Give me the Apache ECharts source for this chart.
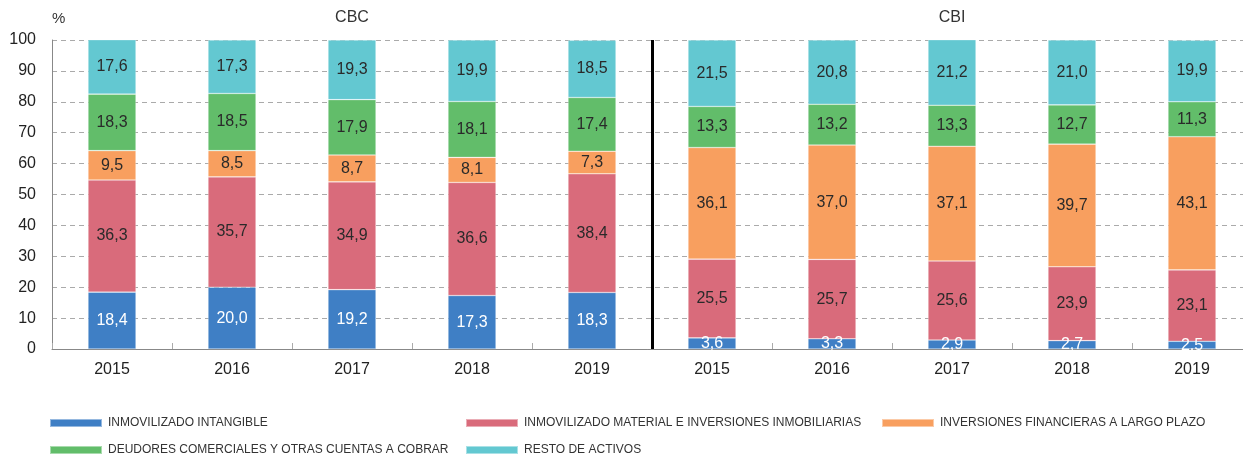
<!DOCTYPE html>
<html>
<head>
<meta charset="utf-8">
<script src="https://cdn.jsdelivr.net/npm/echarts@6/dist/echarts.min.js"></script>
<style>
  html, body { margin: 0; padding: 0; background: #fff; }
  #main { width: 1243px; height: 455px; }
</style>
</head>
<body>
<div id="main"></div>
<script>
// categorias: 5 años CBC y 5 años CBI
var years = ["2015", "2016", "2017", "2018", "2019", "2015", "2016", "2017", "2018", "2019"];
var groups = ["CBC", "CBI"];

var intangible = [18.4, 20.0, 19.2, 17.3, 18.3, 3.6, 3.3, 2.9, 2.7, 2.5];
var material   = [36.3, 35.7, 34.9, 36.6, 38.4, 25.5, 25.7, 25.6, 23.9, 23.1];
var financiera = [9.5, 8.5, 8.7, 8.1, 7.3, 36.1, 37.0, 37.1, 39.7, 43.1];
var deudores   = [18.3, 18.5, 17.9, 18.1, 17.4, 13.3, 13.2, 13.3, 12.7, 11.3];
var resto      = [17.6, 17.3, 19.3, 19.9, 18.5, 21.5, 20.8, 21.2, 21.0, 19.9];

var names = [
	"INMOVILIZADO INTANGIBLE",
	"INMOVILIZADO MATERIAL E INVERSIONES INMOBILIARIAS",
	"INVERSIONES FINANCIERAS A LARGO PLAZO",
	"DEUDORES COMERCIALES Y OTRAS CUENTAS A COBRAR",
	"RESTO DE ACTIVOS"
];
var colors = ["#3F7FC5", "#D96B7B", "#F89F5F", "#62BD6A", "#63C8D1"];
var series_data = [intangible, material, financiera, deudores, resto];

// posición de cada entrada de la leyenda (columna, fila)
var legend_left = [49, 465, 881, 49, 465];
var legend_top  = [417, 417, 417, 444, 444];

var font = "'Liberation Sans', Arial, sans-serif";

var chart = echarts.init(document.getElementById('main'));

var series = [];
for (var i = 0; i < series_data.length; i++) {
	series.push({
		name: names[i],
		type: 'bar',
		stack: 'total',
		barWidth: 48,
		data: series_data[i],
		itemStyle: {
			color: colors[i],
			borderColor: 'rgba(255,255,255,0.45)',
			borderWidth: 0.6
		},
		label: {
			show: true,
			position: 'inside',
			fontFamily: font,
			fontSize: 16,
			color: i == 0 ? '#ffffff' : '#2a2a2a',
			formatter: function(p) {
				return p.value.toFixed(1).replace('.', ',');
			}
		}
	});
}

// línea separadora entre CBC y CBI (eje de valores oculto 0..10)
series.push({
	type: 'scatter',
	xAxisIndex: 1,
	data: [],
	silent: true,
	markLine: {
		symbol: 'none',
		silent: true,
		label: { show: false },
		lineStyle: { color: '#000', type: 'solid', width: 3 },
		data: [{ xAxis: 5 }]
	}
});

// una leyenda por entrada
var legends = [];
for (var j = 0; j < names.length; j++) {
	legends.push({
		data: [names[j]],
		left: legend_left[j],
		top: legend_top[j],
		padding: 0,
		itemWidth: 52,
		itemHeight: 8,
		itemGap: 6,
		icon: 'rect',
		selectedMode: false,
		textStyle: { fontFamily: font, fontSize: 12, color: '#333', padding: [0, 0, 0, 1] }
	});
}

var option = {
	animation: false,
	color: colors,
	grid: { left: 52, width: 1200, top: 40, height: 309, outerBoundsMode: 'none', containLabel: false },
	legend: legends,
	xAxis: [
		{
			type: 'category',
			data: years,
			axisLine: { lineStyle: { color: '#888', width: 1 } },
			axisTick: { show: true, inside: true, length: 6, interval: 0, lineStyle: { color: '#aaa' } },
			axisLabel: { fontFamily: font, fontSize: 16, color: '#222', margin: 13, interval: 0 }
		},
		{
			type: 'value',
			min: 0, max: 10,
			show: false
		},
		{
			type: 'category',
			position: 'top',
			data: groups,
			axisLine: { show: false },
			axisTick: { show: false },
			axisLabel: { fontFamily: font, fontSize: 16, color: '#333', margin: 14 }
		}
	],
	yAxis: {
		type: 'value',
		min: 0, max: 100, interval: 10,
		name: '%',
		nameLocation: 'end',
		nameGap: 14,
		nameTextStyle: { fontFamily: font, fontSize: 15, color: '#333', align: 'left', padding: [0, 0, 0, 0] },
		axisLine: { show: true, lineStyle: { color: '#888' } },
		axisTick: { show: false },
		axisLabel: { fontFamily: font, fontSize: 16, color: '#222', margin: 16 },
		splitLine: { lineStyle: { color: '#aaa', type: [5, 4], width: 1 } }
	},
	series: series
};

chart.setOption(option);
</script>
</body>
</html>
